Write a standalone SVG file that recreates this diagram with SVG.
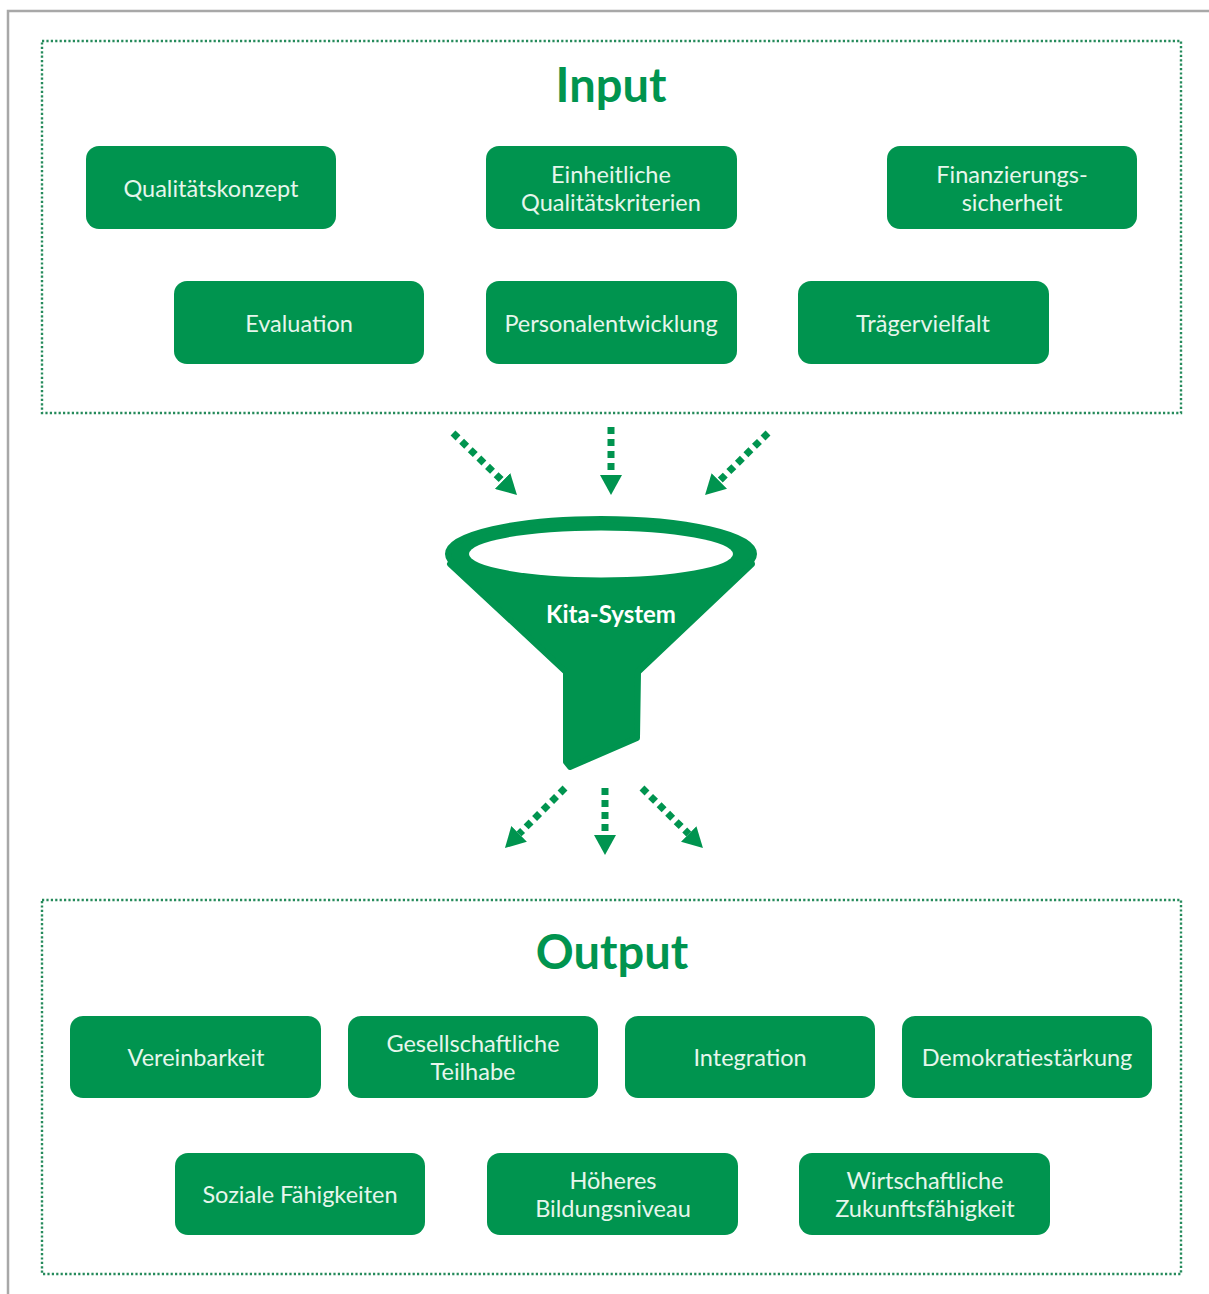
<svg xmlns="http://www.w3.org/2000/svg" width="1209" height="1294" viewBox="0 0 1209 1294">
<style>
.frame{fill:none;stroke:#a8a8a8;stroke-width:2.5}
.group{fill:none;stroke:#258a5b;stroke-width:2.4;stroke-dasharray:2.2 2.2}
.box{fill:#00944f}
.lbl{font-family:Lato,"Liberation Sans",sans-serif;font-size:23.5px;fill:#e6f6ec;text-anchor:middle}
.title{font-family:Lato,"Liberation Sans",sans-serif;font-size:47px;font-weight:bold;fill:#00944f;text-anchor:middle}
.arrow{stroke:#00944f;stroke-width:7;stroke-dasharray:7 5;fill:none;marker-end:url(#ah)}
.funnel{fill:#00944f;stroke:#00944f;stroke-width:6;stroke-linejoin:round}
</style>
<defs>
<marker id="ah" viewBox="0 0 20 22" refX="0" refY="11" markerWidth="20" markerHeight="22" markerUnits="userSpaceOnUse" orient="auto">
<path d="M0,0 L20,11 L0,22 z" fill="#00944f"/>
</marker>
</defs>
<rect width="1209" height="1294" fill="#ffffff"/>
<path class="frame" d="M8,1294 L8,11 L1209,11"/>
<rect class="group" x="42" y="41" width="1139" height="372"/>
<rect class="group" x="42" y="900" width="1139" height="374"/>
<text class="title" x="611" y="102">Input</text>
<text class="title" x="612" y="969">Output</text>
<g id="n-qualitaetskonzept"><rect class="box" x="86" y="146" width="250" height="83" rx="13"/><text class="lbl" x="211" y="197">Qualitätskonzept</text></g>
<g id="n-einheitliche"><rect class="box" x="486" y="146" width="251" height="83" rx="13"/><text class="lbl" x="611" y="183">Einheitliche</text><text class="lbl" x="611" y="211">Qualitätskriterien</text></g>
<g id="n-finanzierung"><rect class="box" x="887" y="146" width="250" height="83" rx="13"/><text class="lbl" x="1012" y="183">Finanzierungs-</text><text class="lbl" x="1012" y="211">sicherheit</text></g>
<g id="n-evaluation"><rect class="box" x="174" y="281" width="250" height="83" rx="13"/><text class="lbl" x="299" y="332">Evaluation</text></g>
<g id="n-personal"><rect class="box" x="486" y="281" width="251" height="83" rx="13"/><text class="lbl" x="611" y="332">Personalentwicklung</text></g>
<g id="n-traeger"><rect class="box" x="798" y="281" width="251" height="83" rx="13"/><text class="lbl" x="923" y="332">Trägervielfalt</text></g>
<g id="n-funnel">
<ellipse cx="601" cy="554" rx="153" ry="35" class="funnel"/>
<path class="funnel" d="M450,564 L752,564 L638,672 L637,738 L570,767 L566,762 L566,672 Z"/>
<ellipse cx="601" cy="554" rx="132" ry="23.5" fill="#ffffff"/>
<text x="611" y="623" font-family="Lato,'Liberation Sans',sans-serif" font-size="24" font-weight="bold" fill="#ffffff" text-anchor="middle">Kita-System</text>
</g>
<g id="connectors">
<line class="arrow" x1="453" y1="433" x2="502.6" y2="481"/>
<line class="arrow" x1="611" y1="427" x2="611" y2="475"/>
<line class="arrow" x1="768" y1="433" x2="719.3" y2="481"/>
<line class="arrow" x1="565" y1="788" x2="519.1" y2="833.9"/>
<line class="arrow" x1="605" y1="788" x2="605" y2="835"/>
<line class="arrow" x1="642" y1="788" x2="688.7" y2="834"/>
</g>
<g id="n-vereinbarkeit"><rect class="box" x="70" y="1016" width="251" height="82" rx="13"/><text class="lbl" x="196" y="1066">Vereinbarkeit</text></g>
<g id="n-teilhabe"><rect class="box" x="348" y="1016" width="250" height="82" rx="13"/><text class="lbl" x="473" y="1052">Gesellschaftliche</text><text class="lbl" x="473" y="1080">Teilhabe</text></g>
<g id="n-integration"><rect class="box" x="625" y="1016" width="250" height="82" rx="13"/><text class="lbl" x="750" y="1066">Integration</text></g>
<g id="n-demokratie"><rect class="box" x="902" y="1016" width="250" height="82" rx="13"/><text class="lbl" x="1027" y="1066">Demokratiestärkung</text></g>
<g id="n-soziale"><rect class="box" x="175" y="1153" width="250" height="82" rx="13"/><text class="lbl" x="300" y="1203">Soziale Fähigkeiten</text></g>
<g id="n-bildung"><rect class="box" x="487" y="1153" width="251" height="82" rx="13"/><text class="lbl" x="613" y="1189">Höheres</text><text class="lbl" x="613" y="1217">Bildungsniveau</text></g>
<g id="n-wirtschaft"><rect class="box" x="799" y="1153" width="251" height="82" rx="13"/><text class="lbl" x="925" y="1189">Wirtschaftliche</text><text class="lbl" x="925" y="1217">Zukunftsfähigkeit</text></g>
</svg>
